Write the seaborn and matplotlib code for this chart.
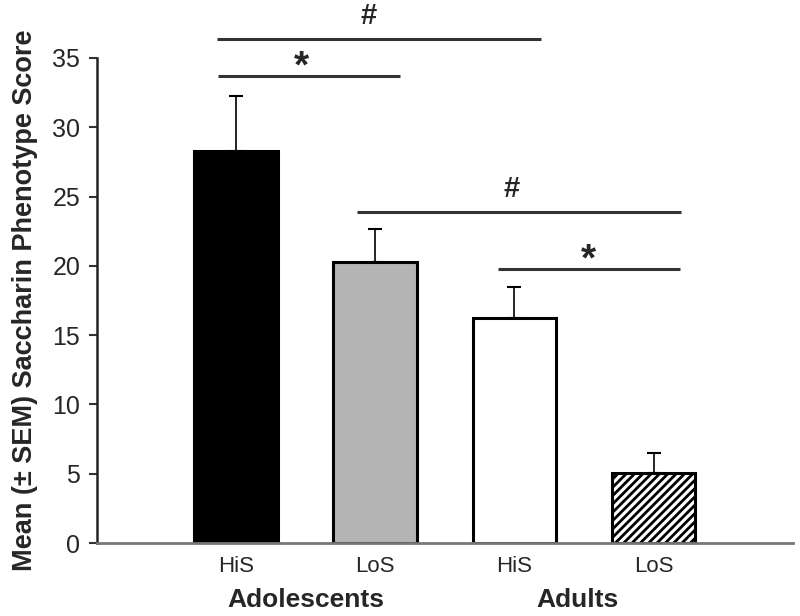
import matplotlib
matplotlib.use("Agg")
import matplotlib.pyplot as plt
import seaborn as sns
import pandas as pd
import numpy as np

groups = ["Adolescents", "Adolescents", "Adults", "Adults"]
phenotypes = ["HiS", "LoS", "HiS", "LoS"]
means = [28.3, 20.3, 16.25, 5.05]
sems = [3.95, 2.35, 2.2, 1.45]
bar_ids = ["A-HiS", "A-LoS", "B-HiS", "B-LoS"]
colors = ["#000000", "#b4b4b4", "#ffffff", "#ffffff"]
hatches = ["", "", "", "////"]

df = pd.DataFrame({"bar": bar_ids, "mean": means})

sns.set_theme(style="white")
plt.rcParams['font.family'] = ['Liberation Sans', 'DejaVu Sans']
plt.rcParams['hatch.linewidth'] = 2.0

fig = plt.figure(figsize=(8, 6.16), dpi=100)
ax = fig.add_axes([0.121, 0.1185, 0.87, 0.7875])

sns.barplot(data=df, x="bar", y="mean", hue="bar", palette=colors, legend=False,
            width=0.6, edgecolor="black", linewidth=2.2, ax=ax, errorbar=None)

for i, p in enumerate(ax.patches):
    p.set_hatch(hatches[i])
    p.set_edgecolor("black")

x = np.arange(len(means))
ax.errorbar(x, means, yerr=[np.zeros(len(sems)), sems], fmt="none", ecolor="black",
            elinewidth=1.2, capsize=5, capthick=1.5, zorder=1)

ax.set_xlim(-1, 4)
ax.set_ylim(0, 35)
ax.set_yticks(range(0, 36, 5))
ax.set_xticks(x)
ax.set_xticklabels(phenotypes, fontsize=16)
ax.tick_params(axis="y", labelsize=18, direction="out", length=6, width=1.5, left=True,
               color="#333333", pad=6)
ax.tick_params(axis="x", length=0, pad=9)
ax.set_xlabel("")
ax.set_ylabel("Mean (± SEM) Saccharin Phenotype Score", fontsize=19.5, fontweight="bold", labelpad=10)

sns.despine(ax=ax)
ax.spines["left"].set_color("#222222")
ax.spines["left"].set_linewidth(1.8)
ax.spines["bottom"].set_color("#777777")
ax.spines["bottom"].set_linewidth(2.0)

# group labels
ax.text(0.5, -0.118, "Adolescents", transform=ax.get_xaxis_transform(), ha="center", va="center",
        fontsize=19, fontweight="bold")
ax.text(2.45, -0.118, "Adults", transform=ax.get_xaxis_transform(), ha="center", va="center",
        fontsize=19, fontweight="bold")

# significance bars
sig = [(-0.14, 2.19, 36.4, "#", 0.95),
       (-0.13, 1.18, 33.7, "*", 0.47),
       (0.87, 3.2, 23.9, "#", 1.98),
       (1.88, 3.19, 19.8, "*", 2.53)]
for x0, x1, yv, sym, tx in sig:
    ax.plot([x0, x1], [yv, yv], color="#333333", lw=2.2, clip_on=False, solid_capstyle="butt")
    if sym == "#":
        ax.text(tx, yv + 0.6, sym, ha="center", va="bottom", fontsize=21, fontweight="bold", clip_on=False)
    else:
        ax.text(tx, yv - 0.7, sym, ha="center", va="bottom", fontsize=28, fontweight="bold", clip_on=False)

fig.savefig("out.png", dpi=100)
